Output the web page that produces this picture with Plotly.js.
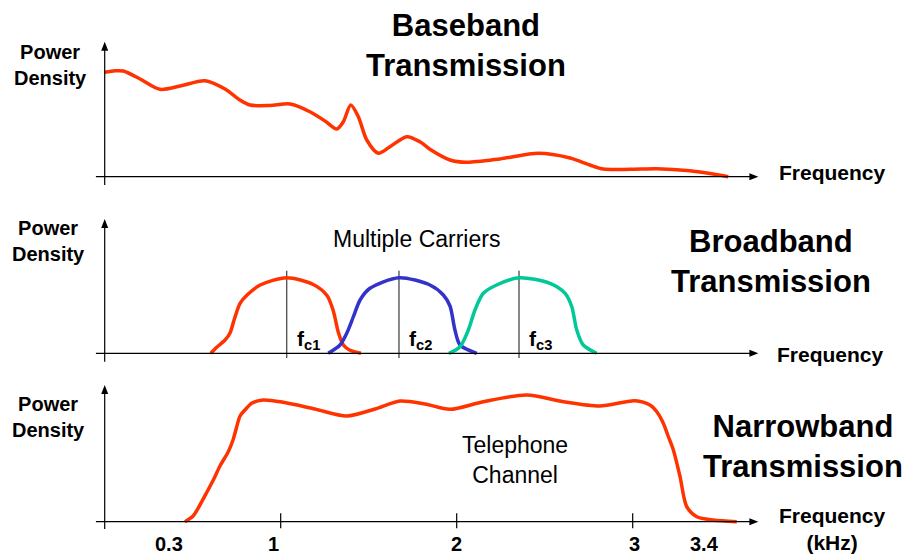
<!DOCTYPE html>
<html>
<head>
<meta charset="utf-8">
<script src="https://cdn.plot.ly/plotly-3.0.1.min.js"></script>
<style>html,body{margin:0;padding:0;background:#fff}#chart{width:908px;height:556px}</style>
</head>
<body>
<div id="chart"></div>
<script>
// ---- Baseband (top panel) : frequency (kHz) vs power density (arbitrary units)
const baseFreq  = [0.0, 0.059, 0.106, 0.201, 0.314, 0.428, 0.570, 0.684, 0.769, 0.826, 0.939, 1.053, 1.166, 1.252, 1.318, 1.356, 1.398, 1.441, 1.489, 1.555, 1.621, 1.716, 1.791, 1.848, 1.962, 2.057, 2.246, 2.464, 2.644, 2.757, 2.833, 2.985, 3.136, 3.325, 3.439, 3.543];
const basePower = [10.44, 10.59, 10.57, 9.77, 8.74, 9.07, 9.6, 8.77, 7.67, 7.17, 7.12, 7.27, 6.5, 5.57, 4.77, 5.5, 7.17, 6.0, 3.67, 2.34, 3.0, 4.0, 3.5, 2.74, 1.67, 1.44, 1.78, 2.34, 1.87, 1.17, 0.77, 0.74, 0.8, 0.6, 0.32, 0.0];

// ---- Broadband (middle panel) : three carriers
const carrierCenters = [1.034, 1.672, 2.354];
const carrierNames   = ['f<sub>c1</sub>', 'f<sub>c2</sub>', 'f<sub>c3</sub>'];
const c1Freq  = [0.602, 0.638, 0.684, 0.712, 0.735, 0.769, 0.809, 0.883, 1.034, 1.185, 1.263, 1.299, 1.327, 1.356, 1.394, 1.456];
const c1Power = [0, 0.63, 1.33, 2.03, 3.33, 5.0, 5.83, 6.83, 7.56, 6.88, 5.78, 4.23, 2.13, 0.83, 0.3, 0];
const c2Freq  = [1.270, 1.337, 1.375, 1.413, 1.451, 1.507, 1.672, 1.848, 1.924, 1.962, 1.990, 2.019, 2.114];
const c2Power = [0, 0.83, 2.0, 3.66, 5.33, 6.5, 7.56, 6.83, 5.83, 4.73, 2.33, 0.83, 0];
const c3Freq  = [1.956, 2.019, 2.066, 2.104, 2.151, 2.227, 2.354, 2.530, 2.616, 2.654, 2.682, 2.719, 2.795];
const c3Power = [0, 0.66, 2.33, 4.33, 6.0, 6.83, 7.56, 7.0, 6.0, 4.66, 2.33, 0.83, 0];

// ---- Narrowband (bottom panel) : telephone channel
const telFreq  = [0.456, 0.502, 0.541, 0.581, 0.617, 0.655, 0.702, 0.729, 0.750, 0.769, 0.797, 0.837, 0.901, 1.015, 1.194, 1.375, 1.536, 1.678, 1.820, 1.962, 2.151, 2.398, 2.606, 2.814, 3.013, 3.098, 3.138, 3.174, 3.201, 3.231, 3.269, 3.307, 3.364, 3.458, 3.591];
const telPower = [0, 0.57, 1.67, 2.97, 4.17, 5.57, 7.0, 8.17, 9.5, 10.57, 11.17, 11.87, 12.17, 11.94, 11.27, 10.57, 11.27, 12.07, 11.77, 11.24, 12.0, 12.67, 12.0, 11.57, 12.1, 11.67, 10.97, 9.84, 8.57, 7.17, 4.5, 1.5, 0.5, 0.17, 0];

// ---- Frequency axis labels (bottom panel)
const tickMarks     = [1, 2, 3];
const tickLabels    = ['0.3', '1', '2', '3', '3.4'];
const tickLabelPos  = [0.365, 0.96, 2.0, 3.01, 3.41];

const RED = '#ff3300', BLUE = '#3333cc', GREEN = '#00c896';
const FONT = 'Liberation Sans, Arial, Helvetica, sans-serif';
const W = 908, H = 556;

function line(x, y, yaxis, color) {
  return {x: x, y: y, yaxis: yaxis, xaxis: 'x', type: 'scatter', mode: 'lines',
          line: {color: color, width: 3.5, shape: 'spline', smoothing: 0.8},
          hoverinfo: 'skip', showlegend: false};
}

const traces = [
  line(baseFreq, basePower, 'y', RED),
  line(c1Freq, c1Power, 'y2', RED),
  line(c2Freq, c2Power, 'y2', BLUE),
  line(c3Freq, c3Power, 'y2', GREEN),
  line(telFreq, telPower, 'y3', RED)
];

// pixel helpers for text placement (paper coordinates)
const px = v => v / W, py = v => 1 - v / H;

const annotations = [];
const shapes = [];

// axes (lines + filled arrowheads) for each panel
const AX_END = 3.714, AX_START = -0.05;
[['y', -0.83, 13.5], ['y2', -0.84, 13.43], ['y3', -0.73, 13.67]].forEach(([ya, yLow, yTop]) => {
  shapes.push({type: 'line', xref: 'x', yref: ya, x0: 0, x1: 0, y0: yLow, y1: yTop - 0.5,
               line: {color: '#000', width: 1.2}});
  shapes.push({type: 'path', xref: 'x', yref: ya, xsizemode: 'pixel', ysizemode: 'pixel',
               xanchor: 0, yanchor: yTop, path: 'M-3.5,-9L3.5,-9L0,0Z',
               fillcolor: '#000', line: {width: 0}});
  shapes.push({type: 'line', xref: 'x', yref: ya, x0: AX_START, x1: AX_END - 0.03, y0: 0, y1: 0,
               line: {color: '#000', width: 1.2}});
  shapes.push({type: 'path', xref: 'x', yref: ya, xsizemode: 'pixel', ysizemode: 'pixel',
               xanchor: AX_END, yanchor: 0, path: 'M-9,-3.5L-9,3.5L0,0Z',
               fillcolor: '#000', line: {width: 0}});
});

// carrier centre lines and labels
carrierCenters.forEach((c, i) => {
  shapes.push({type: 'line', xref: 'x', yref: 'y2', x0: c, x1: c, y0: -0.47, y1: 8.26,
               line: {color: '#555', width: 1.4}, layer: 'below'});
  annotations.push({xref: 'x', yref: 'y2', x: c, y: 1.3, xanchor: 'left', yanchor: 'middle', xshift: 8,
    text: '<b>' + carrierNames[i] + '</b>', showarrow: false, font: {family: FONT, size: 21, color: '#000'}});
});

// tick marks and labels in bottom panel
tickMarks.forEach(t => {
  shapes.push({type: 'line', xref: 'x', yref: 'y3', x0: t, x1: t, y0: -0.66, y1: 0.84,
               line: {color: '#000', width: 1.2}});
});
tickLabels.forEach((t, i) => {
  annotations.push({xref: 'x', yref: 'paper', x: tickLabelPos[i], y: 0, xanchor: 'center', yanchor: 'bottom',
    text: '<b>' + t + '</b>', showarrow: false, borderpad: 0, font: {family: FONT, size: 20, color: '#000'}});
});

function txt(text, x, y, size, bold) {
  annotations.push({xref: 'paper', yref: 'paper', x: px(x), y: py(y), xanchor: 'center', yanchor: 'middle',
    text: bold ? '<b>' + text + '</b>' : text, showarrow: false, align: 'center',
    font: {family: FONT, size: size, color: '#000'}});
}

txt('Baseband<br>Transmission', 466, 45.5, 31, true);
txt('Broadband<br>Transmission', 771, 261.5, 31, true);
txt('Narrowband<br>Transmission', 803, 446.5, 31, true);

txt('Power<br>Density', 50, 64.6, 20, true);
txt('Power<br>Density', 48.5, 240.8, 20, true);
txt('Power<br>Density', 48.5, 416.8, 20, true);

txt('Frequency', 832, 172.5, 21, true);
txt('Frequency', 830.5, 354.2, 21, true);
txt('Frequency<br>(kHz)', 832, 528.7, 21, true);

txt('Multiple Carriers', 416.5, 239.2, 23, false);
txt('Telephone<br>Channel', 515, 459.5, 23, false);

const hidden = {visible: false, fixedrange: true};
const layout = {
  width: W, height: H, autosize: false,
  margin: {l: 0, r: 0, t: 0, b: 0, pad: 0},
  paper_bgcolor: '#fff', plot_bgcolor: '#fff',
  showlegend: false,
  xaxis: Object.assign({range: [-104.7 / 176, (W - 104.7) / 176], domain: [0, 1]}, hidden),
  yaxis: Object.assign({range: [(176.7 - H) / 10, 176.7 / 10], domain: [0, 1]}, hidden),
  yaxis2: Object.assign({range: [(353.3 - H) / 10, 353.3 / 10], overlaying: 'y'}, hidden),
  yaxis3: Object.assign({range: [(521.7 - H) / 10, 521.7 / 10], overlaying: 'y'}, hidden),
  shapes: shapes,
  annotations: annotations
};

Plotly.newPlot('chart', traces, layout, {staticPlot: true, displayModeBar: false});
</script>
</body>
</html>
